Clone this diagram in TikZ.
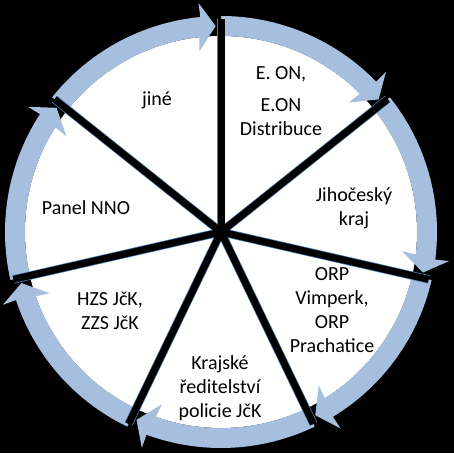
\documentclass[tikz,border=0pt]{standalone}
\usepackage{fontspec}
\setmainfont{Carlito}
\usepackage{tikz}
\usetikzlibrary{calc}
\definecolor{ringblue}{RGB}{167,191,222}
\definecolor{edgeblue}{RGB}{79,129,189}

\begin{document}
\begin{tikzpicture}[x=1pt, y=1pt,
  label/.style={align=center, font=\fontsize{20}{24}\selectfont, text=black, inner sep=0pt},
  spoke/.style={line width=7pt, black}]
  \useasboundingbox (0,0) rectangle (454,453);
  \fill[black] (0,0) rectangle (454,453);
  \coordinate (c) at (221,221);
  % white disc
  \fill[white] (c) circle[radius=196];
  % arrow segments of the ring, clockwise
  \foreach \k [evaluate=\k as \a using 90-\k*360/7,
               evaluate=\k as \b using 90-(\k+1)*360/7] in {0,...,6} {
    \fill[ringblue, shift={(c)}] (\a:216) arc[start angle=\a, end angle=\b+5.5, radius=216]
      -- (\b+5.6:230) -- (\b+1.5:206) -- (\b+6.8:182) -- (\b+6.3:196)
      arc[start angle=\b+6.3, end angle=\a, radius=196] -- cycle;
  }
  % spokes
  \foreach \k [evaluate=\k as \a using 90-\k*360/7] in {0,...,6} {
    \coordinate (s\k) at ($(c)+(\a:213)$);
    \draw[edgeblue, line width=8.4pt] (c) -- (s\k);
  }
  \foreach \k in {0,...,6} \draw[spoke] (c) -- (s\k);
  \fill[black] (c) circle[radius=4.5];
  % labels
  \node[label] (eon) at (281,352) {E. ON,\\[8pt]E.ON\\Distribuce};
  \node[label] (kraj) at (354,245) {Jihočeský\\kraj};
  \node[label] (orp) at (332,143) {ORP\\Vimperk,\\ORP\\Prachatice};
  \node[label] (policie) at (220,65) {Krajské\\ředitelství\\policie JčK};
  \node[label] (hzs) at (110,142) {HZS JčK,\\ZZS JčK};
  \node[label] (nno) at (86,245) {Panel NNO};
  \node[label] (jine) at (157,353) {jiné};
\end{tikzpicture}
\end{document}
